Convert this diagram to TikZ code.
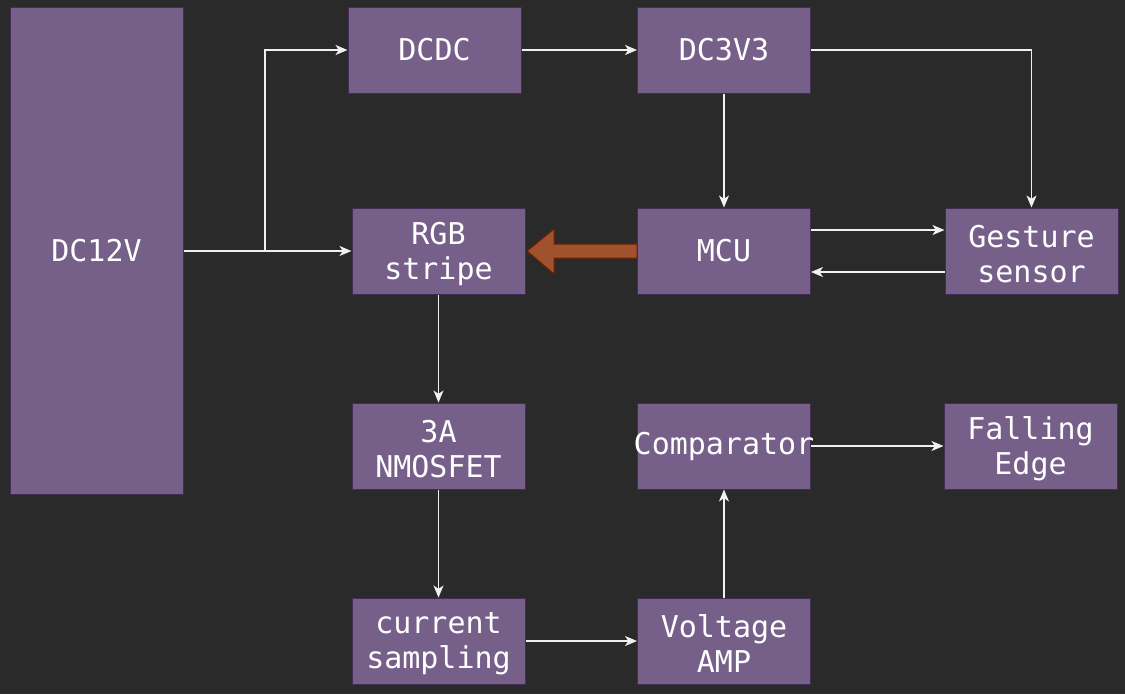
\documentclass[tikz,border=0pt]{standalone}
\usepackage{fontspec}
\setmonofont{DejaVu Sans Mono}
\usetikzlibrary{arrows.meta}
\definecolor{bgdark}{HTML}{2A2A2A}
\definecolor{boxfill}{HTML}{76608A}
\definecolor{boxline}{HTML}{432D57}
\definecolor{pwmfill}{HTML}{A0522D}
\definecolor{pwmline}{HTML}{6D1F00}
\definecolor{wire}{HTML}{F0F0F0}
\newcommand{\twolines}[2]{\raisebox{0pt}[\dimexpr\height+4.5pt]{#1}\\#2}
\tikzset{
	block/.style = {draw=boxline, fill=boxfill, line width=0.75pt, inner sep=0pt,
		minimum width=129.75pt, minimum height=64.5pt, align=center, text=white,
		font=\ttfamily\fontsize{22.5}{26.25}\selectfont},
	link/.style = {draw=wire, line width=0.9pt, -{Stealth[length=9pt,width=7.5pt,inset=2.5pt]}}
}
\begin{document}
\begin{tikzpicture}[x=0.75pt, y=-0.75pt]
		\fill[bgdark] (0,0) rectangle (1125,694);
		\useasboundingbox (0,0) rectangle (1125,694);
		% power column
		\node[block, minimum height=365.25pt] (dc12) at (96.5,250.5) {DC12V};
		\node[block] (dcdc) at (434.5,50) {DCDC};
		\node[block] (dc33) at (724,50) {DC3V3};
		% middle row
		\node[block] (rgb) at (438.5,251) {\twolines{RGB}{stripe}};
		\node[block] (mcu) at (724,251) {MCU};
		\node[block] (gest) at (1031.5,251) {\twolines{Gesture}{sensor}};
		% lower rows
		\node[block] (nmos) at (438.5,446) {\twolines{3A}{NMOSFET}};
		\node[block] (comp) at (724,446) {\makebox[0pt]{Comparator}};
		\node[block] (fall) at (1030.5,446) {\twolines{Falling}{Edge}};
		\node[block] (curr) at (438.5,641) {\twolines{current}{sampling}};
		\node[block] (vamp) at (724,641) {\twolines{Voltage}{AMP}};
		\coordinate (split) at (265,251);
		% connectors
		\draw[link] (dc12.east |- rgb) -- (rgb.west);
		\draw[link] (split) |- (dcdc.west);
		\draw[link] (dcdc) -- (dc33);
		\draw[link] (dc33.east) -| (gest.north);
		\draw[link] (dc33) -- (mcu);
		\draw[link] ([yshift=15.75pt]mcu.east) -- ([yshift=15.75pt]gest.west);
		\draw[link] ([yshift=-15.75pt]gest.west) -- ([yshift=-15.75pt]mcu.east);
		\draw[link] (rgb) -- (nmos);
		\draw[link] (nmos) -- (curr);
		\draw[link] (curr) -- (vamp);
		\draw[link] (vamp) -- (comp);
		\draw[link] (comp) -- (fall);
		% PWM block arrow
		\filldraw[fill=pwmfill, draw=pwmline, line width=0.75pt]
			(527,251) -- (554,229) -- (554,244) -- (mcu.west |- 0,244)
			-- (mcu.west |- 0,258) -- (554,258) -- (554,274) -- cycle;
	\end{tikzpicture}
\end{document}
